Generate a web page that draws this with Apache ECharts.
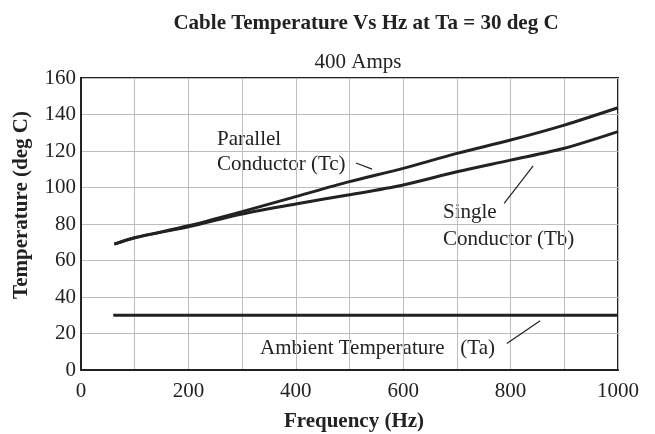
<!DOCTYPE html>
<html>
<head>
<meta charset="utf-8">
<script src="https://cdn.jsdelivr.net/npm/echarts@6/dist/echarts.min.js"></script>
<style>
  html, body { margin: 0; padding: 0; background: #fff; }
  #chart { width: 655px; height: 434px; }
</style>
</head>
<body>
<div id="chart"></div>
<script>
// frequency points (Hz)
const freqs = [62, 100, 200, 300, 400, 500, 600, 700, 800, 900, 1000];
// single conductor (Tb)
const singleTb = [69, 72.5, 78.5, 85.5, 91, 96, 101.4, 108.6, 115, 121.5, 130.6];
// parallel conductor (Tc)
const parallelTc = [69, 72.5, 79, 86.8, 95, 103.2, 110.5, 118.7, 126, 134.2, 143.7];
// ambient (Ta)
const ambientFreqs = [60, 1000];
const ambientTa = [30, 30];

const FONT = '"Liberation Serif", "Times New Roman", serif';
const INK = '#222';

const chart = echarts.init(document.getElementById('chart'));

const toPairs = (xs, ys) => xs.map((x, i) => [x, ys[i]]);

// thin pointer line from a label to its curve, in data coords
const leader = (a, b) => ({
  type: 'line',
  data: [a, b],
  symbol: 'none',
  lineStyle: { color: INK, width: 1.2 },
  silent: true,
  z: 5,
});

const note = (text, left, top) => ({
  type: 'text', left, top,
  style: { text, font: '21px ' + FONT, fill: INK },
});

chart.setOption({
  animation: false,
  textStyle: { fontFamily: FONT },
  title: [
    {
      text: 'Cable Temperature Vs Hz at Ta = 30 deg C',
      left: 361, top: 8, textAlign: 'center',
      textStyle: { fontFamily: FONT, fontSize: 21, fontWeight: 'bold', color: INK },
    },
    {
      text: '400 Amps',
      left: 353, top: 47, textAlign: 'center',
      textStyle: { fontFamily: FONT, fontSize: 21, fontWeight: 'normal', color: INK },
    },
  ],
  grid: { left: 81, right: 37, top: 78, bottom: 64, show: true, borderColor: INK, borderWidth: 2 },
  xAxis: {
    type: 'value', min: 0, max: 1000, interval: 100,
    axisLine: { show: true, lineStyle: { color: INK, width: 2 } },
    axisTick: { show: false },
    axisLabel: {
      fontFamily: FONT, fontSize: 21, color: INK, margin: 11,
      formatter: v => (v % 200 === 0 ? String(v) : ''),
    },
    splitLine: { show: true, lineStyle: { color: '#bdbdbd', width: 1 } },
  },
  yAxis: {
    type: 'value', min: 0, max: 160, interval: 20,
    axisLine: { show: true, lineStyle: { color: INK, width: 2 } },
    axisTick: { show: false },
    axisLabel: { fontFamily: FONT, fontSize: 21, color: INK, margin: 5 },
    splitLine: { show: true, lineStyle: { color: '#bdbdbd', width: 1 } },
  },
  series: [
    {
      name: 'Parallel Conductor (Tc)', type: 'line', smooth: 0.3, symbol: 'none',
      data: toPairs(freqs, parallelTc),
      lineStyle: { color: INK, width: 3 },
    },
    {
      name: 'Single Conductor (Tb)', type: 'line', smooth: 0.3, symbol: 'none',
      data: toPairs(freqs, singleTb),
      lineStyle: { color: INK, width: 3 },
    },
    {
      name: 'Ambient Temperature (Ta)', type: 'line', symbol: 'none',
      data: toPairs(ambientFreqs, ambientTa),
      lineStyle: { color: INK, width: 3 },
    },
    leader([512, 113.4], [542, 110.1]),
    leader([788, 91.3], [842, 111.8]),
    leader([793, 14.5], [855, 27]),
  ],
  graphic: [
    {
      type: 'text', x: 22, y: 205, rotation: Math.PI / 2,
      style: {
        text: 'Temperature (deg C)', font: 'bold 21px ' + FONT, fill: INK,
        align: 'center', verticalAlign: 'middle',
      },
    },
    {
      type: 'text', x: 354, y: 422,
      style: {
        text: 'Frequency (Hz)', font: 'bold 21px ' + FONT, fill: INK,
        align: 'center', verticalAlign: 'middle',
      },
    },
    note('Parallel', 217, 129),
    note('Conductor (Tc)', 217, 154),
    note('Single', 443, 202),
    note('Conductor (Tb)', 443, 229),
    note('Ambient Temperature   (Ta)', 260, 338),
  ],
});
</script>
</body>
</html>
